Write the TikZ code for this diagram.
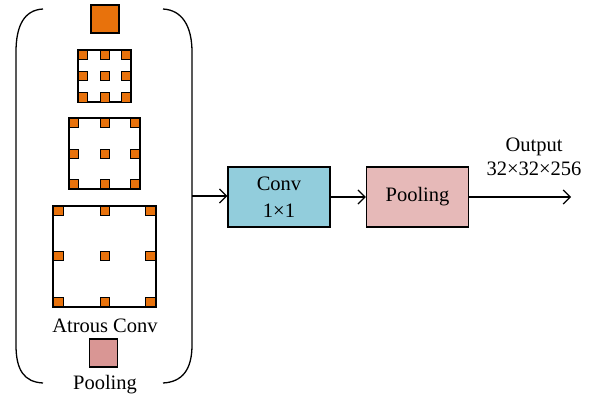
\documentclass[tikz,border=0pt]{standalone}
\usepackage{fontspec}
\setmainfont{Liberation Serif}
\usetikzlibrary{arrows.meta}
\definecolor{orng}{HTML}{E8720C}
\definecolor{convblue}{HTML}{92CDDC}
\definecolor{poolpink}{HTML}{E6B9B8}
\definecolor{poolsq}{HTML}{D99694}
\tikzset{
  txt/.style={font=\fontsize{20.5}{24}\selectfont, inner sep=0pt},
  opbox/.style={draw, line width=1.4pt, minimum width=102pt, minimum height=60pt, inner sep=0pt, font=\fontsize{20.5}{27}\selectfont, align=center},
  frame/.style={draw, line width=1.3pt, fill=white, inner sep=0pt},
  dot/.style={draw, line width=0.9pt, fill=orng, minimum size=9.5pt, inner sep=0pt},
  bigsq/.style={draw, line width=1.3pt, minimum size=28pt, inner sep=0pt},
  brk/.style={line width=1.3pt},
  arr/.style={line width=1.2pt, -{Straight Barb[length=7pt,width=14pt,line width=1.2pt]}},
}
\begin{document}
\begin{tikzpicture}[x=1pt,y=-1pt]
\useasboundingbox (0,0) rectangle (590,394);
% brackets
\draw[brk] (43,9) .. controls (24,10) and (16,26) .. (16,52) -- (16,345) .. controls (16,370) and (24,382) .. (43,383);
\draw[brk] (163,9) .. controls (182,10) and (192,26) .. (192,52) -- (192,345) .. controls (192,370) and (182,382) .. (163,383);
\coordinate (bout) at (192,196);
% top pooling square
\node[bigsq, fill=orng] (topsq) at (105,19) {};
% grid 1
\node[frame, minimum width=53pt, minimum height=52pt] (g1) at (104.5,76) {};
\foreach \i/\x in {a/83,b/105,c/126}{
  \foreach \j/\y in {a/55,b/76,c/97.5}{
    \node[dot] (g1\i\j) at (\x,\y) {};
  }
}
% grid 2
\node[frame, minimum width=71pt, minimum height=71pt] (g2) at (104.5,153.5) {};
\foreach \i/\x in {a/74,b/105,c/135}{
  \foreach \j/\y in {a/123,b/154,c/184}{
    \node[dot] (g2\i\j) at (\x,\y) {};
  }
}
% grid 3
\node[frame, minimum width=103pt, minimum height=101pt] (g3) at (104.5,256.5) {};
\foreach \i/\x in {a/58.5,b/105,c/150.5}{
  \foreach \j/\y in {a/211,b/256,c/302}{
    \node[dot] (g3\i\j) at (\x,\y) {};
  }
}
\node[txt] (atrous) at (105,326) {Atrous Conv};
\node[bigsq, fill=poolsq] (poolsq) at (103.5,353) {};
\node[txt, anchor=base] (poollbl) at (105,389) {Pooling};
% main pipeline
\node[opbox, fill=convblue] (conv) at (279,197) {Conv\\1×1};
\node[opbox, fill=poolpink] (pool) at (417.5,197) {Pooling};
\coordinate (out) at (571,197);
\draw[arr] (bout) -- (conv.west |- bout);
\draw[arr] (conv) -- (pool);
\draw[arr] (pool) -- (out);
\node[txt, align=center] (outlbl) at (534,157) {Output\\32×32×256};
\end{tikzpicture}
\end{document}
